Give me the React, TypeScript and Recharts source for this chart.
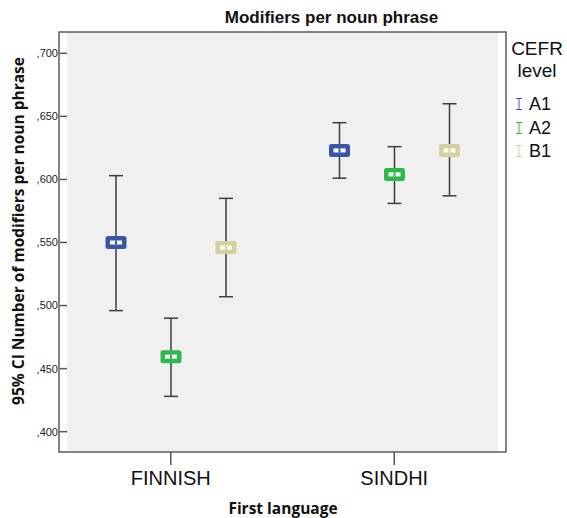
import React from 'react';
import { BarChart, Bar, XAxis, YAxis, CartesianGrid, ErrorBar, LabelList, ReferenceArea, Label } from 'recharts';

const languages = ['FINNISH', 'SINDHI'];
const levels = ['A1', 'A2', 'B1'];
const a1Mean = [0.55, 0.623];
const a1Lower = [0.496, 0.601];
const a1Upper = [0.603, 0.645];
const a2Mean = [0.4595, 0.604];
const a2Lower = [0.428, 0.581];
const a2Upper = [0.49, 0.626];
const b1Mean = [0.546, 0.623];
const b1Lower = [0.507, 0.587];
const b1Upper = [0.585, 0.66];
const yTicks = [0.4, 0.45, 0.5, 0.55, 0.6, 0.65, 0.7];
const yDomain = [0.3839, 0.7169];

const colors: Record<string, string> = { A1: '#3a55a8', A2: '#2db84b', B1: '#d6d09e' };

const means = [a1Mean, a2Mean, b1Mean];
const lowers = [a1Lower, a2Lower, b1Lower];
const uppers = [a1Upper, a2Upper, b1Upper];

const data = languages.map((lang, i) => {
  const row: any = { lang };
  levels.forEach((lv, k) => {
    row[lv] = means[k][i];
    row[lv + 'err'] = [means[k][i] - lowers[k][i], uppers[k][i] - means[k][i]];
  });
  return row;
});

const fmt = (v: number) => ',' + String(Math.round(v * 1000));

const markerFor = (color: string) => (props: any) => {
  const vb = props.viewBox || props;
  const x = Number(vb.x);
  const y = Number(vb.y);
  const w = Number(vb.width);
  if (!isFinite(x) || !isFinite(y)) return null;
  const cx = x + w / 2;
  const cy = y;
  return (
    <g>
      <rect x={cx - 10.5} y={cy - 6.5} width={21} height={13} rx={2.5} fill={color} />
      <rect x={cx - 6} y={cy - 2} width={12} height={4} fill="#ffffff" />
      <rect x={cx - 1} y={cy - 2} width={2} height={4} fill={color} />
    </g>
  );
};

const YLabel = () => (
  <text
    x={18}
    y={231}
    transform="rotate(-90 18 231)"
    textAnchor="middle"
    dominantBaseline="central"
    style={{ fontFamily: '"Open Sans", sans-serif', fontWeight: 700, fontSize: 15.5, fill: '#111' }}
  >
    95% CI Number of modifiers per noun phrase
  </text>
);

const XLabel = () => (
  <text
    x={283}
    y={508}
    textAnchor="middle"
    dominantBaseline="central"
    style={{ fontFamily: '"Open Sans", sans-serif', fontWeight: 700, fontSize: 15.5, fill: '#111' }}
  >
    First language
  </text>
);

export default function App() {
  return (
    <div
      style={{
        position: 'absolute',
        left: 0,
        top: 0,
        width: 567,
        height: 518,
        background: '#ffffff',
        fontFamily: '"Liberation Sans", Arial, sans-serif',
      }}
    >
      <BarChart
        width={567}
        height={518}
        data={data}
        margin={{ top: 32, right: 69, bottom: 0, left: 0 }}
        barSize={20}
        barGap={35}
      >
        <CartesianGrid fill="#f0f0f0" horizontal={false} vertical={false} />
        <ReferenceArea
          y1={yDomain[0]}
          y2={yDomain[1]}
          fill="none"
          stroke="#5c5c5c"
          strokeWidth={1.5}
          ifOverflow="visible"
        />
        <XAxis
          dataKey="lang"
          height={66}
          tickSize={13}
          tickMargin={6}
          tickLine={{ stroke: '#555', strokeWidth: 1.5 }}
          axisLine={false}
          padding={{ left: -8, right: -8 }}
          tick={{ fontSize: 20, fill: '#111', fontFamily: '"Liberation Sans", Arial, sans-serif' }}
          label={<Label content={XLabel} />}
        />
        <YAxis
          type="number"
          domain={yDomain}
          allowDataOverflow
          ticks={yTicks}
          tickFormatter={fmt}
          width={67}
          tickSize={7}
          tickMargin={2}
          tickLine={{ stroke: '#555', strokeWidth: 1.5 }}
          axisLine={false}
          tick={{ fontSize: 11, fill: '#222222', fontFamily: '"Liberation Sans", Arial, sans-serif' }}
          label={<Label content={YLabel} />}
        />
        {levels.map((lv) => (
          <Bar key={lv} dataKey={lv} fill="none" isAnimationActive={false}>
            <ErrorBar dataKey={lv + 'err'} width={7} stroke="#3c3c3c" strokeWidth={1.5} direction="y" />
            <LabelList dataKey={lv} content={markerFor(colors[lv])} />
          </Bar>
        ))}
      </BarChart>
      <div
        style={{
          position: 'absolute',
          left: 181.5,
          top: 8,
          width: 300,
          textAlign: 'center',
          fontSize: 17,
          lineHeight: '20px',
          fontWeight: 700,
          color: '#111',
        }}
      >
        Modifiers per noun phrase
      </div>
      <div
        style={{
          position: 'absolute',
          left: 500,
          top: 38,
          width: 74,
          textAlign: 'center',
          fontSize: 19,
          lineHeight: '22px',
          color: '#111',
        }}
      >
        <div>CEFR</div>
        <div>level</div>
      </div>
      {levels.map((lv, k) => (
        <div
          key={lv}
          style={{
            position: 'absolute',
            left: 515,
            top: 104 + k * 23.5 - 11,
            height: 22,
            display: 'flex',
            alignItems: 'center',
            fontSize: 18,
            lineHeight: '22px',
            color: '#111',
          }}
        >
          <svg width={8} height={12} style={{ marginRight: 6 }}>
            <line x1={1} y1={0.5} x2={7} y2={0.5} stroke={colors[lv]} strokeWidth={1} />
            <line x1={4} y1={0.5} x2={4} y2={11.5} stroke={colors[lv]} strokeWidth={1} />
            <line x1={1} y1={11.5} x2={7} y2={11.5} stroke={colors[lv]} strokeWidth={1} />
          </svg>
          <span>{lv}</span>
        </div>
      ))}
    </div>
  );
}
